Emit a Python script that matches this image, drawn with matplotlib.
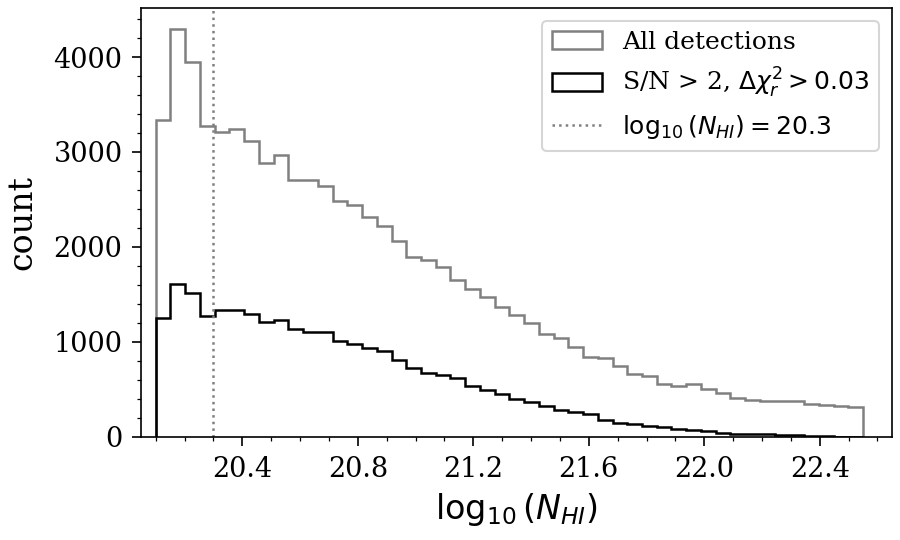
import numpy as np
import matplotlib
matplotlib.use("Agg")
import matplotlib.pyplot as plt
from matplotlib.ticker import MultipleLocator, AutoMinorLocator

plt.rcParams['font.family'] = 'serif'
plt.rcParams['font.serif'] = ['DejaVu Serif']
plt.rcParams['mathtext.fontset'] = 'dejavusans'

# 48 equal bins between 20.1 and 22.55
n_bins = 48
bin_lo, bin_hi = 20.1, 22.55

# counts per bin
all_counts = [3340, 4300, 3945, 3270, 3210, 3245, 3120, 2885, 2965, 2705,
              2705, 2645, 2485, 2445, 2315, 2220, 2065, 1895, 1865, 1790,
              1650, 1560, 1470, 1370, 1278, 1199, 1085, 1041, 944, 846,
              832, 747, 665, 636, 556, 531, 559, 503, 461, 404,
              383, 380, 380, 380, 348, 334, 320, 311]
cut_counts = [1252, 1614, 1516, 1269, 1332, 1332, 1297, 1206, 1227, 1136,
              1108, 1108, 1009, 981, 935, 907, 805, 725, 672, 647,
              620, 535, 496, 452, 400, 370, 327, 285, 258, 241,
              179, 144, 134, 119, 109, 88, 74, 63, 39, 28,
              28, 25, 18, 18, 14, 6, 3, 1]

dla_cut = 20.3

edges = np.linspace(bin_lo, bin_hi, n_bins + 1)
centers = 0.5 * (edges[:-1] + edges[1:])

fig, ax = plt.subplots(figsize=(6, 3.6), dpi=150)
fig.subplots_adjust(left=0.157, right=0.991, top=0.985, bottom=0.191)

ax.hist(centers, bins=edges, weights=all_counts, histtype='step',
        color='gray', lw=1.2, label='All detections')
ax.hist(centers, bins=edges, weights=cut_counts, histtype='step',
        color='black', lw=1.2, label=r'S/N > 2, $\Delta\chi^2_r > 0.03$')
ax.axvline(dla_cut, color='gray', ls=':', lw=1.2,
           label=r'$\log_{10}(N_{HI}) = 20.3$')

ax.set_xlim(20.05, 22.65)
ax.xaxis.set_major_locator(MultipleLocator(0.4))
ax.xaxis.set_minor_locator(AutoMinorLocator(4))
ax.yaxis.set_major_locator(MultipleLocator(1000))
ax.yaxis.set_minor_locator(AutoMinorLocator(5))
ax.tick_params(which='major', labelsize=13, length=4.2, pad=4.8)
ax.tick_params(which='minor', length=2.1)

ax.set_xlabel(r'$\log_{10}(N_{HI})$', fontsize=16)
ax.set_ylabel('count', fontsize=16, labelpad=7)
ax.legend(loc='upper right', fontsize=12)

plt.savefig('out.png', dpi=150)
